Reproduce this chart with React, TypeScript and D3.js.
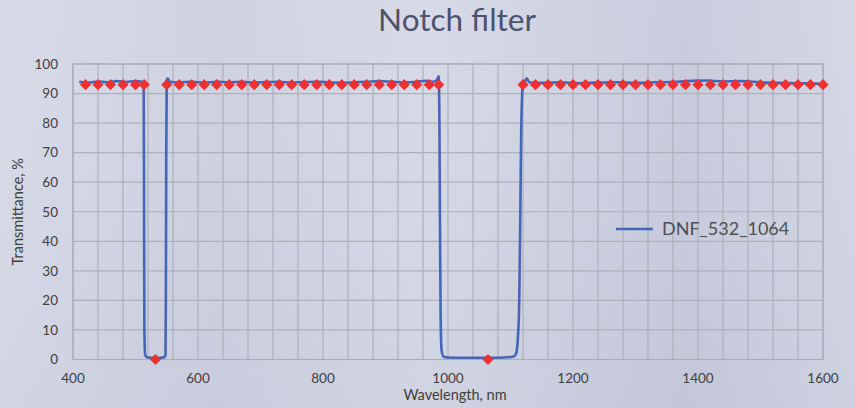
import React from "react";
import * as d3 from "d3";

const lineWl = [410, 425, 440, 455, 470, 485, 500, 510, 513, 513.6, 514.2, 515.5, 518, 525, 532, 540, 546, 548, 548.6, 549.2, 550, 551.5, 555, 570, 590, 610, 630, 650, 670, 690, 710, 730, 750, 770, 790, 810, 830, 850, 870, 890, 910, 930, 950, 965, 975, 982, 985, 986.3, 987.2, 988.2, 989.8, 993, 1000, 1030, 1064, 1090, 1105, 1109, 1112, 1114, 1115.5, 1117, 1118.5, 1120, 1123, 1126, 1130, 1150, 1180, 1210, 1240, 1270, 1300, 1330, 1360, 1390, 1414, 1440, 1470, 1500, 1530, 1560, 1600];
const lineT = [94, 93.7, 94.1, 93.8, 94.2, 93.9, 94.2, 94, 93.5, 60, 10, 1.5, 0.8, 0.6, 0.5, 0.6, 0.8, 1.5, 20, 70, 94.5, 95.2, 94, 93.8, 94, 93.7, 94, 93.8, 94, 93.7, 93.9, 94, 93.7, 93.9, 94, 93.8, 93.6, 93.8, 94, 94.2, 94, 93.8, 94, 94.3, 94, 94.5, 95.8, 80, 45, 15, 3, 0.9, 0.7, 0.6, 0.6, 0.7, 1.0, 2, 8, 20, 45, 75, 89, 93.5, 94, 95.2, 93.8, 93.6, 93.8, 93.5, 93.7, 93.8, 93.6, 93.8, 93.9, 94.3, 94.4, 94.1, 94.2, 93.8, 93.6, 93.5, 93.3];

const markerWl = [420, 440, 460, 480, 500, 514, 532, 550, 570, 590, 610, 630, 650, 670, 690, 710, 730, 750, 770, 790, 810, 830, 850, 870, 890, 910, 930, 950, 970, 985, 1064, 1120, 1140, 1160, 1180, 1200, 1220, 1240, 1260, 1280, 1300, 1320, 1340, 1360, 1380, 1400, 1420, 1440, 1460, 1480, 1500, 1520, 1540, 1560, 1580, 1600];
const markerT = [93, 93, 93, 93, 93, 93, 0, 93, 93, 93, 93, 93, 93, 93, 93, 93, 93, 93, 93, 93, 93, 93, 93, 93, 93, 93, 93, 93, 93, 93, 0, 93, 93, 93, 93, 93, 93, 93, 93, 93, 93, 93, 93, 93, 93, 93, 93, 93, 93, 93, 93, 93, 93, 93, 93, 93];

const xTickLabels = [400, 600, 800, 1000, 1200, 1400, 1600];
const yTickLabels = [0, 10, 20, 30, 40, 50, 60, 70, 80, 90, 100];
const seriesName = "DNF_532_1064";
const title = "Notch filter";

export default function App() {
  const W = 855, H = 408;
  const x = d3.scaleLinear().domain([400, 1600]).range([73, 823]);
  const y = d3.scaleLinear().domain([0, 100]).range([359.5, 64]);
  const vGrid = d3.range(400, 1601, 40);
  const pts = lineWl.map((w, i) => [w, lineT[i]] as [number, number]);
  const line = d3.line<[number, number]>()
    .x(d => x(d[0]))
    .y(d => y(d[1]))
    .curve(d3.curveMonotoneX);
  const diamond = d3.symbol().type(d3.symbolDiamond2).size(80)();
  const font = "Lato, 'Open Sans', sans-serif";
  return (
    <svg width={W} height={H} style={{ position: "absolute", left: 0, top: 0 }} fontFamily={font}>
      <defs>
        <linearGradient id="bg" x1="0" y1="0" x2="1" y2="0">
          <stop offset="0%" stopColor="#d6d9e6" />
          <stop offset="25%" stopColor="#cdd0df" />
          <stop offset="50%" stopColor="#d5d8e5" />
          <stop offset="80%" stopColor="#c6cadb" />
          <stop offset="100%" stopColor="#d2d5e3" />
        </linearGradient>
        <linearGradient id="bgv" x1="0" y1="0" x2="0" y2="1">
          <stop offset="0%" stopColor="#ffffff" stopOpacity="0.05" />
          <stop offset="100%" stopColor="#9aa0b8" stopOpacity="0.08" />
        </linearGradient>
      </defs>
      <rect width={W} height={H} fill="url(#bg)" />
      <rect width={W} height={H} fill="url(#bgv)" />
      <text x={457} y={31} textAnchor="middle" fontSize={31.5} fill="#4b5270">{title}</text>
      {yTickLabels.map(v => (
        <line key={"h" + v} x1={x(400)} x2={x(1600)} y1={y(v)} y2={y(v)} stroke="#aeb0ba" strokeWidth={1.2} />
      ))}
      {vGrid.map(v => (
        <line key={"v" + v} x1={x(v)} x2={x(v)} y1={y(0)} y2={y(100)} stroke="#aeb0ba" strokeWidth={1.2} />
      ))}
      <rect x={x(400)} y={y(100)} width={x(1600) - x(400)} height={y(0) - y(100)} fill="none" stroke="#aaacb6" strokeWidth={1.2} />
      {yTickLabels.map(v => (
        <text key={"yt" + v} x={58} y={y(v) + 4.8} textAnchor="end" fontSize={13.5} fill="#404040">{v}</text>
      ))}
      {xTickLabels.map(v => (
        <text key={"xt" + v} x={x(v)} y={383} textAnchor="middle" fontSize={13.5} fill="#404040">{v}</text>
      ))}
      <text x={455} y={400} textAnchor="middle" fontSize={14.5} fill="#404040">Wavelength, nm</text>
      <text transform={`translate(23,${(y(0) + y(100)) / 2}) rotate(-90)`} textAnchor="middle" fontSize={14.5} fill="#404040">Transmittance, %</text>
      <path d={line(pts) || ""} fill="none" stroke="#4565b8" strokeWidth={2.6} strokeLinejoin="round" />
      {markerWl.map((w, i) => (
        <path key={"m" + i} d={diamond || ""} transform={`translate(${x(w)},${y(markerT[i])})`} fill="#ee3030" />
      ))}
      <line x1={616} x2={653} y1={229} y2={229} stroke="#4565b8" strokeWidth={2.6} />
      <text x={662} y={234.5} fontSize={18} fill="#505050">{seriesName}</text>
    </svg>
  );
}
